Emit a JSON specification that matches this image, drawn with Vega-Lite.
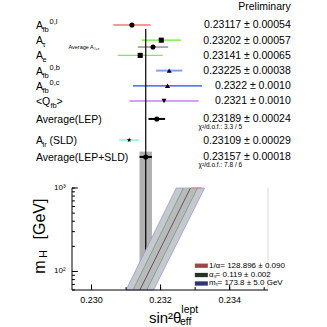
{
  "$schema": "https://vega.github.io/schema/vega-lite/v6.json",
  "padding": {"left": 32, "top": 0, "right": 0, "bottom": 0},
  "background": "white",
  "spacing": 0,
  "bounds": "flush",
  "config": {"view": {"stroke": null}, "font": "Liberation Sans", "text": {"font": "Liberation Sans", "color": "black"}},
  "resolve": {"scale": {"x": "shared", "y": "independent", "color": "independent", "shape": "independent", "size": "independent"}},
  "datasets": {
    "meas": [
      {"name": "Afb_l", "row": 1, "value": 0.23117, "err": 0.00054, "lab": "A", "sub": "fb", "sup": "0,l", "tail": "", "val": "0.23117 ± 0.00054", "chi": "", "note": "", "notesub": ""},
      {"name": "Atau", "row": 2, "value": 0.23202, "err": 0.00057, "lab": "A", "sub": "τ", "sup": "", "tail": "", "val": "0.23202 ± 0.00057", "chi": "", "note": "", "notesub": ""},
      {"name": "Altau", "row": 2.45, "value": 0.23178, "err": 0.00044, "lab": "", "sub": "", "sup": "", "tail": "", "val": "", "chi": "", "note": "Average A", "notesub": "l+τ"},
      {"name": "Ae", "row": 3, "value": 0.23141, "err": 0.00065, "lab": "A", "sub": "e", "sup": "", "tail": "", "val": "0.23141 ± 0.00065", "chi": "", "note": "", "notesub": ""},
      {"name": "Afb_b", "row": 4, "value": 0.23225, "err": 0.00038, "lab": "A", "sub": "fb", "sup": "0,b", "tail": "", "val": "0.23225 ± 0.00038", "chi": "", "note": "", "notesub": ""},
      {"name": "Afb_c", "row": 5, "value": 0.2322, "err": 0.0010, "lab": "A", "sub": "fb", "sup": "0,c", "tail": "", "val": "0.2322 ± 0.0010", "chi": "", "note": "", "notesub": ""},
      {"name": "Qfb", "row": 6, "value": 0.2321, "err": 0.0010, "lab": "<Q", "sub": "fb", "sup": "", "tail": ">", "val": "0.2321 ± 0.0010", "chi": "", "note": "", "notesub": ""},
      {"name": "LEP", "row": 7.18, "value": 0.23189, "err": 0.00024, "lab": "Average(LEP)", "sub": "", "sup": "", "tail": "", "val": "0.23189 ± 0.00024", "chi": "χ²/d.o.f.: 3.3 / 5", "note": "", "notesub": ""},
      {"name": "Alr", "row": 8.57, "value": 0.23109, "err": 0.00029, "lab": "A", "sub": "lr", "sup": "", "tail": "(SLD)", "val": "0.23109 ± 0.00029", "chi": "", "note": "", "notesub": ""},
      {"name": "LEPSLD", "row": 9.68, "value": 0.23157, "err": 0.00018, "lab": "Average(LEP+SLD)", "sub": "", "sup": "", "tail": "", "val": "0.23157 ± 0.00018", "chi": "χ²/d.o.f.: 7.8 / 6", "note": "", "notesub": ""}
    ],
    "band": [
      {"mH": 60, "lo": 0.231000, "ilo": 0.231200, "c": 0.231400, "ihi": 0.231600, "hi": 0.231797},
      {"mH": 1000, "lo": 0.232455, "ilo": 0.232660, "c": 0.232864, "ihi": 0.233068, "hi": 0.233275}
    ],
    "legend": [
      {"key": "alpha", "label": "1/α= 128.896 ± 0.090", "mH": 117.3},
      {"key": "as", "label": "αₛ= 0.119 ± 0.002", "mH": 90.7},
      {"key": "mt", "label": "mₜ= 173.8 ± 5.0 GeV", "mH": 71.8}
    ],
    "xticks": [
      {"v": 0.230, "lab": "0.230", "major": 1},
      {"v": 0.231, "lab": "", "major": 0},
      {"v": 0.232, "lab": "0.232", "major": 1},
      {"v": 0.233, "lab": "", "major": 0},
      {"v": 0.234, "lab": "0.234", "major": 1},
      {"v": 0.235, "lab": "", "major": 0}
    ],
    "yticks": [
      {"m": 60, "lab": "", "major": 0},
      {"m": 70, "lab": "", "major": 0},
      {"m": 80, "lab": "", "major": 0},
      {"m": 90, "lab": "", "major": 0},
      {"m": 100, "lab": "10²", "major": 1},
      {"m": 200, "lab": "", "major": 0},
      {"m": 300, "lab": "", "major": 0},
      {"m": 400, "lab": "", "major": 0},
      {"m": 500, "lab": "", "major": 0},
      {"m": 600, "lab": "", "major": 0},
      {"m": 700, "lab": "", "major": 0},
      {"m": 800, "lab": "", "major": 0},
      {"m": 900, "lab": "", "major": 0},
      {"m": 1000, "lab": "10³", "major": 1}
    ],
    "notes": [
      {"id": "prelim", "text": "Preliminary"},
      {"id": "xt", "text": "sin²θ"},
      {"id": "xsub", "text": "eff"},
      {"id": "xsup", "text": "lept"},
      {"id": "ym", "text": "m"},
      {"id": "yH", "text": "H"},
      {"id": "yGeV", "text": "[GeV]"}
    ]
  },
  "vconcat": [
    {
      "width": 196,
      "height": 188,
      "layer": [
        {
          "data": {"name": "meas"},
          "transform": [{"filter": "datum.name == 'LEPSLD'"}],
          "mark": {"type": "rect", "color": "#b0b0b0"},
          "encoding": {
            "x": {"datum": 0.23139, "type": "quantitative", "axis": null, "scale": {"domain": [0.229435, 0.23511], "nice": false, "zero": false}},
            "x2": {"datum": 0.23175},
            "y": {"datum": 9.33, "type": "quantitative", "axis": null, "scale": {"domain": [-0.6447, 11.724], "reverse": true, "nice": false, "zero": false}},
            "y2": {"datum": 11.724}
          }
        },
        {
          "data": {"name": "meas"},
          "transform": [{"filter": "indexof(['Afb_b','LEP','LEPSLD'], datum.name) < 0"}],
          "mark": {"type": "errorbar", "thickness": 1.2},
          "encoding": {
            "x": {"field": "value", "type": "quantitative", "axis": null},
            "xError": {"field": "err"},
            "y": {"field": "row", "type": "quantitative", "axis": null},
            "color": {"field": "name", "type": "nominal", "legend": null,
              "scale": {"domain": ["Afb_l", "Atau", "Altau", "Ae", "Afb_b", "Afb_c", "Qfb", "LEP", "Alr", "LEPSLD"],
                        "range": ["#ee3333", "#66ee22", "#777777", "#8ee060", "#7f9ff0", "#2244ff", "#b040e8", "#000000", "#70f0d0", "#000000"]}}
          }
        },
        {
          "data": {"name": "meas"},
          "transform": [{"filter": "indexof(['Afb_b','LEP','LEPSLD'], datum.name) >= 0"}],
          "mark": {"type": "errorbar", "thickness": 2},
          "encoding": {
            "x": {"field": "value", "type": "quantitative", "axis": null},
            "xError": {"field": "err"},
            "y": {"field": "row", "type": "quantitative", "axis": null},
            "color": {"field": "name", "type": "nominal", "legend": null}
          }
        },
        {
          "data": {"name": "meas"},
          "transform": [{"filter": "datum.name == 'LEPSLD'"}],
          "mark": {"type": "rule", "color": "black", "strokeWidth": 1.2},
          "encoding": {
            "x": {"field": "value", "type": "quantitative", "axis": null},
            "y": {"datum": 1.26, "type": "quantitative", "axis": null},
            "y2": {"datum": 11.724}
          }
        },
        {
          "data": {"name": "meas"},
          "mark": {"type": "point", "filled": true, "color": "black", "opacity": 1},
          "encoding": {
            "x": {"field": "value", "type": "quantitative", "axis": null},
            "y": {"field": "row", "type": "quantitative", "axis": null},
            "shape": {"field": "name", "type": "nominal", "legend": null,
              "scale": {"domain": ["Afb_l", "Atau", "Altau", "Ae", "Afb_b", "Afb_c", "Qfb", "LEP", "Alr", "LEPSLD"],
                        "range": ["circle", "square", "circle", "square", "triangle-up", "triangle-up", "triangle-down", "circle", "M0,-1L0.24,-0.32L0.95,-0.31L0.38,0.12L0.59,0.81L0,0.4L-0.59,0.81L-0.38,0.12L-0.95,-0.31L-0.24,-0.32Z", "circle"]}},
            "size": {"field": "name", "type": "nominal", "legend": null,
              "scale": {"domain": ["Afb_l", "Atau", "Altau", "Ae", "Afb_b", "Afb_c", "Qfb", "LEP", "Alr", "LEPSLD"],
                        "range": [26, 26, 30, 26, 24, 24, 24, 34, 16, 34]}}
          }
        },
        {
          "data": {"name": "meas"},
          "transform": [{"filter": "datum.lab != ''"}],
          "mark": {"type": "text", "align": "left", "baseline": "middle", "fontSize": 10.5, "dy": 1},
          "encoding": {
            "x": {"datum": 0.228391, "type": "quantitative", "axis": null},
            "y": {"field": "row", "type": "quantitative", "axis": null},
            "text": {"field": "lab"}
          }
        },
        {
          "data": {"name": "meas"},
          "transform": [{"filter": "datum.lab == 'A'"}],
          "mark": {"type": "text", "align": "left", "baseline": "middle", "fontSize": 7.5, "dy": 5},
          "encoding": {
            "x": {"datum": 0.22858, "type": "quantitative", "axis": null},
            "y": {"field": "row", "type": "quantitative", "axis": null},
            "text": {"field": "sub"}
          }
        },
        {
          "data": {"name": "meas"},
          "transform": [{"filter": "datum.sup != ''"}],
          "mark": {"type": "text", "align": "left", "baseline": "middle", "fontSize": 7.5, "dy": -2.5},
          "encoding": {
            "x": {"datum": 0.228783, "type": "quantitative", "axis": null},
            "y": {"field": "row", "type": "quantitative", "axis": null},
            "text": {"field": "sup"}
          }
        },
        {
          "data": {"name": "meas"},
          "transform": [{"filter": "datum.lab == 'A' && datum.tail != ''"}],
          "mark": {"type": "text", "align": "left", "baseline": "middle", "fontSize": 10.5, "dy": 1},
          "encoding": {
            "x": {"datum": 0.228783, "type": "quantitative", "axis": null},
            "y": {"field": "row", "type": "quantitative", "axis": null},
            "text": {"field": "tail"}
          }
        },
        {
          "data": {"name": "meas"},
          "transform": [{"filter": "datum.lab == '<Q'"}],
          "mark": {"type": "text", "align": "left", "baseline": "middle", "fontSize": 7.5, "dy": 5},
          "encoding": {
            "x": {"datum": 0.228812, "type": "quantitative", "axis": null},
            "y": {"field": "row", "type": "quantitative", "axis": null},
            "text": {"field": "sub"}
          }
        },
        {
          "data": {"name": "meas"},
          "transform": [{"filter": "datum.lab == '<Q'"}],
          "mark": {"type": "text", "align": "left", "baseline": "middle", "fontSize": 10.5, "dy": 1},
          "encoding": {
            "x": {"datum": 0.228986, "type": "quantitative", "axis": null},
            "y": {"field": "row", "type": "quantitative", "axis": null},
            "text": {"field": "tail"}
          }
        },
        {
          "data": {"name": "meas"},
          "transform": [{"filter": "datum.val != ''"}],
          "mark": {"type": "text", "align": "right", "baseline": "middle", "fontSize": 10.5, "dy": 0.5},
          "encoding": {
            "x": {"datum": 0.235768, "type": "quantitative", "axis": null},
            "y": {"field": "row", "type": "quantitative", "axis": null},
            "text": {"field": "val"}
          }
        },
        {
          "data": {"name": "meas"},
          "transform": [{"filter": "datum.chi != ''"}],
          "mark": {"type": "text", "align": "left", "baseline": "middle", "fontSize": 6.5, "dy": 8.5},
          "encoding": {
            "x": {"datum": 0.233101, "type": "quantitative", "axis": null},
            "y": {"field": "row", "type": "quantitative", "axis": null},
            "text": {"field": "chi"}
          }
        },
        {
          "data": {"name": "meas"},
          "transform": [{"filter": "datum.note != ''"}],
          "mark": {"type": "text", "align": "left", "baseline": "middle", "fontSize": 5.5},
          "encoding": {
            "x": {"datum": 0.229333, "type": "quantitative", "axis": null},
            "y": {"field": "row", "type": "quantitative", "axis": null},
            "text": {"field": "note"}
          }
        },
        {
          "data": {"name": "meas"},
          "transform": [{"filter": "datum.note != ''"}],
          "mark": {"type": "text", "align": "left", "baseline": "middle", "fontSize": 4, "dy": 1.5},
          "encoding": {
            "x": {"datum": 0.230087, "type": "quantitative", "axis": null},
            "y": {"field": "row", "type": "quantitative", "axis": null},
            "text": {"field": "notesub"}
          }
        },
        {
          "data": {"name": "notes"},
          "transform": [{"filter": "datum.id == 'prelim'"}],
          "mark": {"type": "text", "align": "right", "baseline": "middle", "fontSize": 10.5},
          "encoding": {
            "x": {"datum": 0.235768, "type": "quantitative", "axis": null},
            "y": {"datum": -0.18, "type": "quantitative", "axis": null},
            "text": {"field": "text"}
          }
        }
      ]
    },
    {
      "width": 196,
      "height": 102,
      "layer": [
        {
          "data": {"name": "meas"},
          "transform": [{"filter": "datum.name == 'LEPSLD'"}],
          "mark": {"type": "rect", "color": "#b0b0b0"},
          "encoding": {
            "x": {"datum": 0.23139, "type": "quantitative", "axis": null, "scale": {"domain": [0.229435, 0.23511], "nice": false, "zero": false}},
            "x2": {"datum": 0.23175},
            "y": {"datum": 60, "type": "quantitative", "axis": null, "scale": {"type": "log", "domain": [60, 1000], "nice": false}},
            "y2": {"datum": 1000}
          }
        },
        {
          "data": {"name": "meas"},
          "transform": [{"filter": "datum.name == 'LEPSLD'"}],
          "mark": {"type": "rule", "color": "black", "strokeWidth": 1.2},
          "encoding": {
            "x": {"field": "value", "type": "quantitative", "axis": null},
            "y": {"datum": 60, "type": "quantitative", "axis": null},
            "y2": {"datum": 1000}
          }
        },
        {
          "data": {"name": "band"},
          "mark": {"type": "area", "orient": "horizontal", "fill": "#c8c8c8", "stroke": "#8f9be8", "strokeWidth": 0.8},
          "encoding": {
            "x": {"field": "lo", "type": "quantitative", "axis": null},
            "x2": {"field": "hi"},
            "y": {"field": "mH", "type": "quantitative", "axis": null}
          }
        },
        {
          "data": {"name": "band"},
          "mark": {"type": "area", "orient": "horizontal", "fill": "#bababa"},
          "encoding": {
            "x": {"field": "ilo", "type": "quantitative", "axis": null},
            "x2": {"field": "ihi"},
            "y": {"field": "mH", "type": "quantitative", "axis": null}
          }
        },
        {
          "data": {"name": "band"},
          "mark": {"type": "line", "color": "#5f9ea0", "strokeWidth": 0.8},
          "encoding": {
            "x": {"field": "ilo", "type": "quantitative", "axis": null},
            "y": {"field": "mH", "type": "quantitative", "axis": null}
          }
        },
        {
          "data": {"name": "band"},
          "mark": {"type": "line", "color": "#5f9ea0", "strokeWidth": 0.8},
          "encoding": {
            "x": {"field": "ihi", "type": "quantitative", "axis": null},
            "y": {"field": "mH", "type": "quantitative", "axis": null}
          }
        },
        {
          "data": {"name": "band"},
          "mark": {"type": "line", "color": "#404040", "strokeWidth": 0.8},
          "encoding": {
            "x": {"field": "c", "type": "quantitative", "axis": null},
            "y": {"field": "mH", "type": "quantitative", "axis": null}
          }
        },
        {
          "data": {"name": "band"},
          "transform": [{"filter": "datum.mH == 1000"}],
          "mark": {"type": "rule", "color": "#e07070", "strokeWidth": 1},
          "encoding": {
            "x": {"datum": 0.232888, "type": "quantitative", "axis": null},
            "x2": {"datum": 0.233178},
            "y": {"datum": 1000, "type": "quantitative", "axis": null}
          }
        },
        {
          "data": {"name": "band"},
          "transform": [{"filter": "datum.mH == 1000"}],
          "mark": {"type": "rule", "color": "#d8d8d8", "strokeWidth": 1},
          "encoding": {
            "x": {"datum": 0.23511, "type": "quantitative", "axis": null},
            "y": {"datum": 60, "type": "quantitative", "axis": null},
            "y2": {"datum": 1000}
          }
        },
        {
          "data": {"name": "band"},
          "transform": [{"filter": "datum.mH == 1000"}],
          "mark": {"type": "rule", "color": "black", "strokeWidth": 1},
          "encoding": {
            "x": {"datum": 0.229435, "type": "quantitative", "axis": null},
            "x2": {"datum": 0.23511},
            "y": {"datum": 60, "type": "quantitative", "axis": null}
          }
        },
        {
          "data": {"name": "band"},
          "transform": [{"filter": "datum.mH == 1000"}],
          "mark": {"type": "rule", "color": "black", "strokeWidth": 1},
          "encoding": {
            "x": {"datum": 0.229435, "type": "quantitative", "axis": null},
            "y": {"datum": 60, "type": "quantitative", "axis": null},
            "y2": {"datum": 1000}
          }
        },
        {
          "data": {"name": "xticks"},
          "mark": {"type": "rule", "color": "black", "strokeWidth": 1},
          "encoding": {
            "x": {"field": "v", "type": "quantitative", "axis": null},
            "y": {"datum": 60, "type": "quantitative", "axis": null},
            "y2": {"datum": 65}
          }
        },
        {
          "data": {"name": "xticks"},
          "transform": [{"filter": "datum.major == 1"}],
          "mark": {"type": "rule", "color": "black", "strokeWidth": 1},
          "encoding": {
            "x": {"field": "v", "type": "quantitative", "axis": null},
            "y": {"datum": 60, "type": "quantitative", "axis": null},
            "y2": {"datum": 70}
          }
        },
        {
          "data": {"name": "xticks"},
          "transform": [{"filter": "datum.lab != ''"}],
          "mark": {"type": "text", "align": "center", "baseline": "middle", "fontSize": 9},
          "encoding": {
            "x": {"field": "v", "type": "quantitative", "axis": null},
            "y": {"datum": 45.5, "type": "quantitative", "axis": null},
            "text": {"field": "lab"}
          }
        },
        {
          "data": {"name": "yticks"},
          "mark": {"type": "rule", "color": "black", "strokeWidth": 1},
          "encoding": {
            "x": {"datum": 0.229435, "type": "quantitative", "axis": null},
            "x2": {"datum": 0.22952},
            "y": {"field": "m", "type": "quantitative", "axis": null}
          }
        },
        {
          "data": {"name": "yticks"},
          "transform": [{"filter": "datum.major == 1"}],
          "mark": {"type": "rule", "color": "black", "strokeWidth": 1},
          "encoding": {
            "x": {"datum": 0.229435, "type": "quantitative", "axis": null},
            "x2": {"datum": 0.229605},
            "y": {"field": "m", "type": "quantitative", "axis": null}
          }
        },
        {
          "data": {"name": "yticks"},
          "transform": [{"filter": "datum.lab != ''"}],
          "mark": {"type": "text", "align": "right", "baseline": "middle", "fontSize": 8},
          "encoding": {
            "x": {"datum": 0.22925, "type": "quantitative", "axis": null},
            "y": {"field": "m", "type": "quantitative", "axis": null},
            "text": {"field": "lab"}
          }
        },
        {
          "data": {"name": "legend"},
          "mark": {"type": "point", "filled": true, "opacity": 1, "shape": "M-1,-0.33L1,-0.33L1,0.33L-1,0.33Z", "size": 169},
          "encoding": {
            "x": {"datum": 0.23318, "type": "quantitative", "axis": null},
            "y": {"field": "mH", "type": "quantitative", "axis": null},
            "color": {"field": "key", "type": "nominal", "legend": null,
              "scale": {"domain": ["alpha", "as", "mt"], "range": ["#9e4646", "#243524", "#2e3570"]}}
          }
        },
        {
          "data": {"name": "legend"},
          "mark": {"type": "text", "align": "left", "baseline": "middle", "fontSize": 8},
          "encoding": {
            "x": {"datum": 0.2334, "type": "quantitative", "axis": null},
            "y": {"field": "mH", "type": "quantitative", "axis": null},
            "text": {"field": "label"}
          }
        },
        {
          "data": {"name": "notes"},
          "transform": [{"filter": "datum.id == 'xt'"}],
          "mark": {"type": "text", "align": "left", "baseline": "alphabetic", "fontSize": 15},
          "encoding": {
            "x": {"datum": 0.231661, "type": "quantitative", "axis": null},
            "y": {"datum": 24.48, "type": "quantitative", "axis": null},
            "text": {"field": "text"}
          }
        },
        {
          "data": {"name": "notes"},
          "transform": [{"filter": "datum.id == 'xsub'"}],
          "mark": {"type": "text", "align": "left", "baseline": "alphabetic", "fontSize": 10.5},
          "encoding": {
            "x": {"datum": 0.23256, "type": "quantitative", "axis": null},
            "y": {"datum": 22.54, "type": "quantitative", "axis": null},
            "text": {"field": "text"}
          }
        },
        {
          "data": {"name": "notes"},
          "transform": [{"filter": "datum.id == 'xsup'"}],
          "mark": {"type": "text", "align": "left", "baseline": "alphabetic", "fontSize": 10.5},
          "encoding": {
            "x": {"datum": 0.2326, "type": "quantitative", "axis": null},
            "y": {"datum": 31.8, "type": "quantitative", "axis": null},
            "text": {"field": "text"}
          }
        },
        {
          "data": {"name": "notes"},
          "transform": [{"filter": "datum.id == 'ym'"}],
          "mark": {"type": "text", "align": "center", "baseline": "middle", "fontSize": 16, "angle": 270},
          "encoding": {
            "x": {"datum": 0.228522, "type": "quantitative", "axis": null},
            "y": {"datum": 113.2, "type": "quantitative", "axis": null},
            "text": {"field": "text"}
          }
        },
        {
          "data": {"name": "notes"},
          "transform": [{"filter": "datum.id == 'yH'"}],
          "mark": {"type": "text", "align": "center", "baseline": "middle", "fontSize": 11, "angle": 270},
          "encoding": {
            "x": {"datum": 0.228638, "type": "quantitative", "axis": null},
            "y": {"datum": 162, "type": "quantitative", "axis": null},
            "text": {"field": "text"}
          }
        },
        {
          "data": {"name": "notes"},
          "transform": [{"filter": "datum.id == 'yGeV'"}],
          "mark": {"type": "text", "align": "center", "baseline": "middle", "fontSize": 16, "angle": 270},
          "encoding": {
            "x": {"datum": 0.228522, "type": "quantitative", "axis": null},
            "y": {"datum": 425.3, "type": "quantitative", "axis": null},
            "text": {"field": "text"}
          }
        }
      ]
    }
  ]
}
